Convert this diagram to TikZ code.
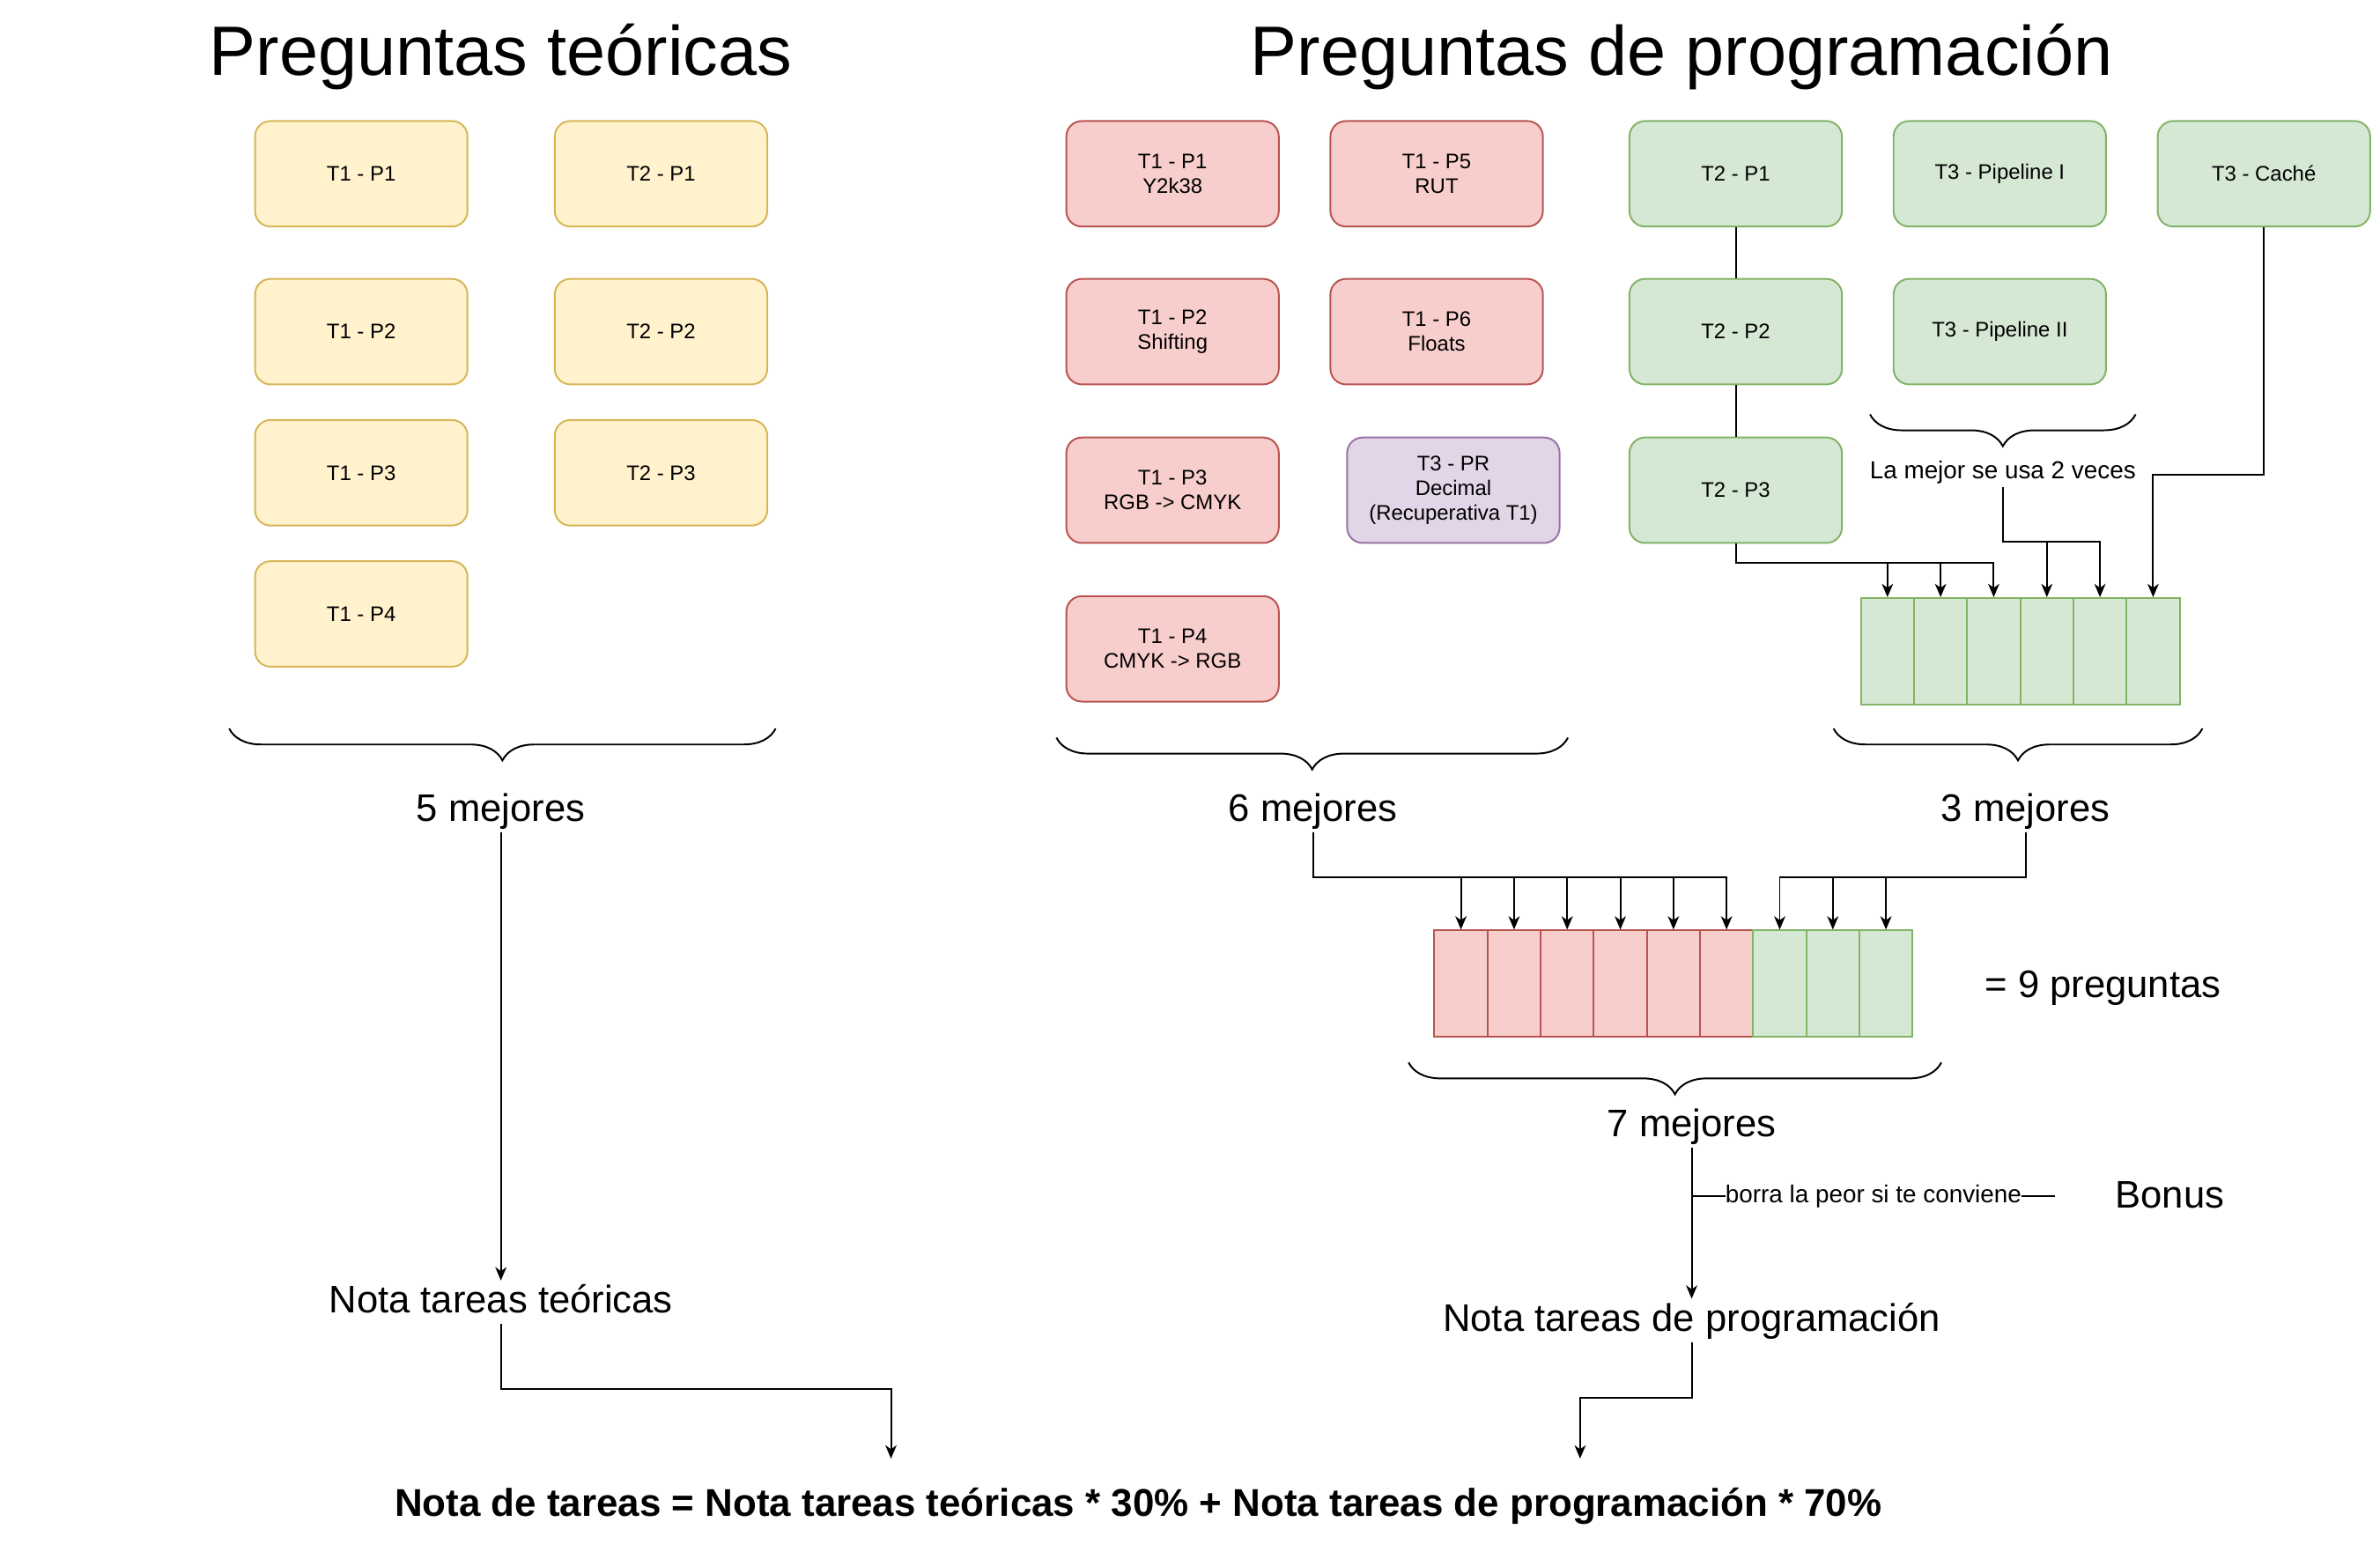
\documentclass[tikz,border=0pt]{standalone}
\usepackage{fontspec}
\setmainfont{Liberation Sans}
\usepackage{tikz}
\usetikzlibrary{arrows.meta,calc,decorations.pathreplacing}
\definecolor{teofill}{HTML}{FFF2CC}
\definecolor{teoline}{HTML}{D6B656}
\definecolor{progfill}{HTML}{F8CECC}
\definecolor{progline}{HTML}{B85450}
\definecolor{recfill}{HTML}{E1D5E7}
\definecolor{recline}{HTML}{9673A6}
\definecolor{arqfill}{HTML}{D5E8D4}
\definecolor{arqline}{HTML}{82B366}

\begin{document}
\begin{tikzpicture}[x=0.02cm, y=-0.02cm, line width=0.65pt,
    caja/.style={draw, rounded corners=5.8pt, minimum width=2.8cm, minimum height=1.39cm, align=center, font=\fontsize{7.9}{9.3}\selectfont},
    teo/.style={caja, fill=teofill, draw=teoline},
    prog/.style={caja, fill=progfill, draw=progline},
    rec/.style={caja, fill=recfill, draw=recline},
    arq/.style={caja, fill=arqfill, draw=arqline},
    celda/.style={draw, minimum width=0.7cm, minimum height=1.4cm, inner sep=0pt},
    llave/.style={decorate, decoration={brace, mirror, amplitude=0.42cm}},
    etiq/.style={inner sep=1pt, text height=10.8pt, text depth=2.9pt, font=\fontsize{14.4}{17}\selectfont},
    titulo/.style={inner sep=1pt, text height=19.6pt, text depth=5.2pt, font=\fontsize{26.2}{31}\selectfont},
    nota/.style={inner sep=1pt, text height=6.9pt, text depth=1.85pt, font=\fontsize{9.2}{11}\selectfont},
    flecha/.style={-{Stealth[length=5pt, width=4.2pt, inset=1.5pt]}}]
    \useasboundingbox (0,0) rectangle (1568,1027);
    \node[titulo] (tt) at (330,37) {Preguntas teóricas};
    \node[titulo] (tp) at (1108,37) {Preguntas de programación};

    \foreach \pn/\y in {1/114.5,2/218.5,3/311.5,4/404.5}
      \node[teo] (ta\pn) at (238,\y) {T1 - P\pn};
    \foreach \pn/\y in {1/114.5,2/218.5,3/311.5}
      \node[teo] (tb\pn) at (435.5,\y) {T2 - P\pn};

    \node[prog] (pa) at (772.5,114.5) {T1 - P1\\Y2k38};
    \node[prog] (pe) at (946.5,114.5) {T1 - P5\\RUT};
    \node[prog] (pb) at (772.5,218.5) {T1 - P2\\Shifting};
    \node[prog] (pf) at (946.5,218.5) {T1 - P6\\Floats};
    \node[prog] (pc) at (772.5,323) {T1 - P3\\RGB -> CMYK};
    \node[rec] (pr) at (957.5,323) {T3 - PR\\Decimal\\(Recuperativa T1)};
    \node[prog] (pd) at (772.5,427.5) {T1 - P4\\CMYK -> RGB};

    \node[arq] (qa) at (1143.5,114.5) {T2 - P1};
    \node[arq] (qb) at (1143.5,218.5) {T2 - P2};
    \node[arq] (qc) at (1143.5,323) {T2 - P3};
    \node[arq] (pipe1) at (1317.5,114.5) {T3 - Pipeline I};
    \node[arq] (pipe2) at (1317.5,218.5) {T3 - Pipeline II};
    \node[arq] (cache) at (1491.5,114.5) {T3 - Caché};
    \draw (qa) -- (qb) (qb) -- (qc);

    \draw[llave] (1232,273) -- (1407,273);
    \node[nota] (mejor) at (1319.5,311) {La mejor se usa 2 veces};

    \foreach \i in {1,...,6}
      \node[celda, fill=arqfill, draw=arqline] (g\i) at ({1208.5+35*\i},429) {};
    \foreach \i in {1,2,3}
      \draw[flecha] (qc.south) |- (g\i.north |- 0,371) -- (g\i.north);
    \foreach \i in {4,5}
      \draw[flecha] (mejor.south) |- (g\i.north |- 0,357) -- (g\i.north);
    \draw[flecha] (cache.south) |- (g6.north |- 0,313) -- (g6.north);

    \draw[llave] (151,480) -- (511,480);
    \draw[llave] (696,486) -- (1033,486);
    \draw[llave] (1208,480) -- (1451,480);
    \node[etiq] (m5) at (330,534) {5 mejores};
    \node[etiq] (m6) at (865,534) {6 mejores};
    \node[etiq] (m3) at (1334.5,534) {3 mejores};

    \foreach \i in {1,...,9} {
      \ifnum\i<7
        \node[celda, fill=progfill, draw=progline] (n\i) at ({927.5+35*\i},648) {};
      \else
        \node[celda, fill=arqfill, draw=arqline] (n\i) at ({927.5+35*\i},648) {};
      \fi
    }
    \foreach \i in {1,...,6}
      \draw[flecha] (m6.south) |- (n\i.north |- 0,578) -- (n\i.north);
    \foreach \i in {7,8,9}
      \draw[flecha] (m3.south) |- (n\i.north |- 0,578) -- (n\i.north);
    \node[etiq] (nueve) at (1385.5,650) {= 9 preguntas};

    \draw[llave] (928,700) -- (1279,700);
    \node[etiq] (m7) at (1114.5,742) {7 mejores};
    \node[etiq] (ntp) at (1114.5,870) {Nota tareas de programación};
    \draw[flecha] (m7.south) -- (ntp.north);
    \coordinate (bo) at (m7 |- 0,788);
    \coordinate (bf) at (1354,788);
    \draw (bo) -- node[nota, fill=white, inner sep=0pt] (borra) {borra la peor si te conviene} (bf);
    \node[etiq] (bonus) at (1429.5,789) {Bonus};

    \node[etiq] (ntt) at (330,858) {Nota tareas teóricas};
    \draw[flecha] (m5.south) -- (ntt.north);

    \node[etiq, font=\fontsize{14.5}{17}\selectfont\bfseries] (total) at (750,992)
      {Nota de tareas = Nota tareas teóricas * 30\% + Nota tareas de programación * 70\%};
    \coordinate (fa) at (587,961);
    \coordinate (fb) at (1041,961);
    \draw[flecha] (ntt.south) |- (fa |- 0,915) -- (fa);
    \draw[flecha] (ntp.south) |- (fb |- 0,921) -- (fb);
\end{tikzpicture}
\end{document}
